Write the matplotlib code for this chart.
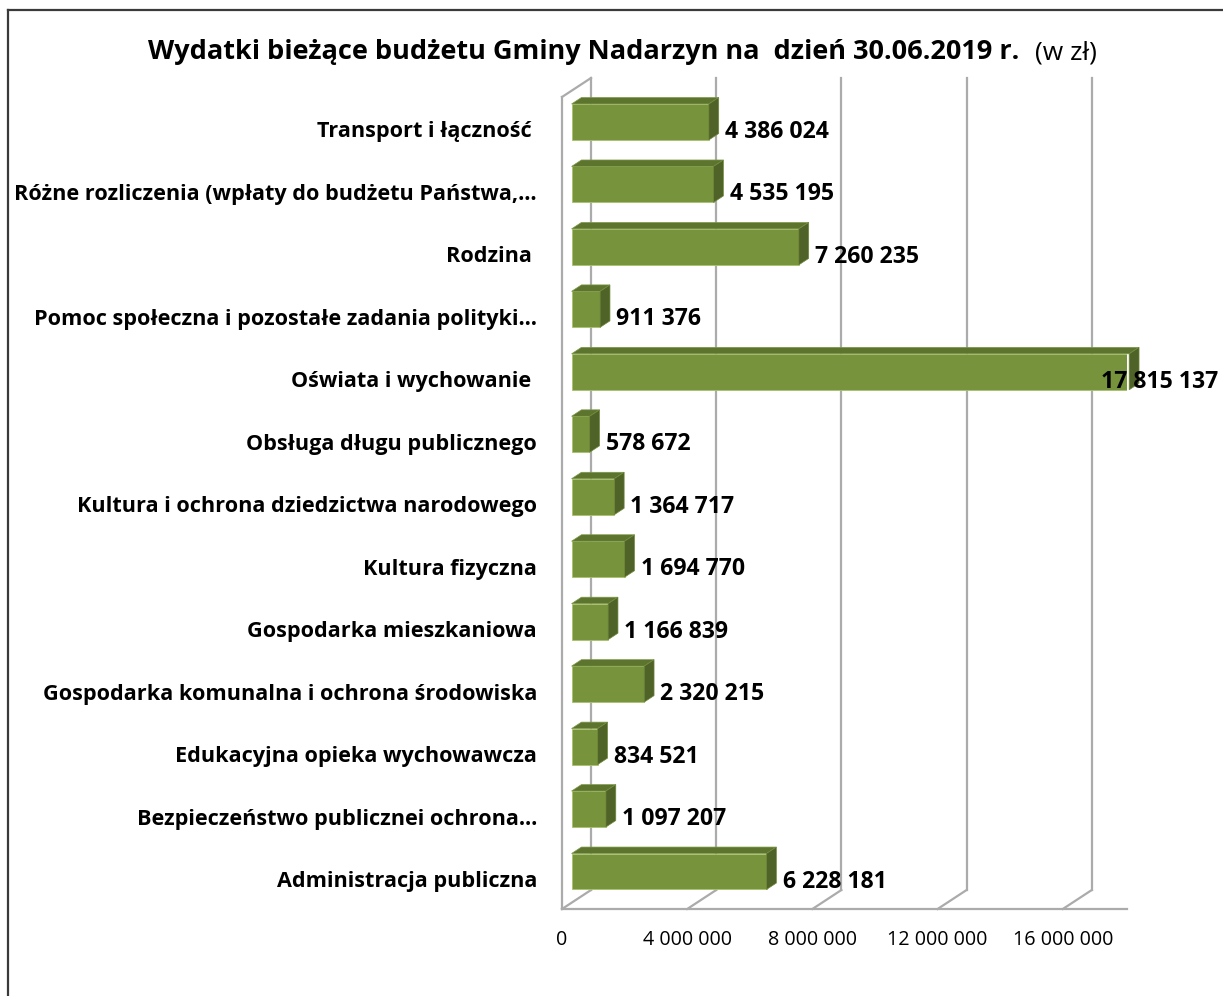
import matplotlib.pyplot as plt
from matplotlib.patches import Polygon
from matplotlib.lines import Line2D

plt.rcParams['font.family'] = ['Open Sans', 'DejaVu Sans']

# dane
categories = [
    "Transport i łączność ",
    "Różne rozliczenia (wpłaty do budżetu Państwa,…",
    "Rodzina ",
    "Pomoc społeczna i pozostałe zadania polityki…",
    "Oświata i wychowanie ",
    "Obsługa długu publicznego",
    "Kultura i ochrona dziedzictwa narodowego",
    "Kultura fizyczna",
    "Gospodarka mieszkaniowa",
    "Gospodarka komunalna i ochrona środowiska",
    "Edukacyjna opieka wychowawcza",
    "Bezpieczeństwo publicznei ochrona…",
    "Administracja publiczna",
]
values = [4386024, 4535195, 7260235, 911376, 17815137, 578672, 1364717,
          1694770, 1166839, 2320215, 834521, 1097207, 6228181]
ticks = [0, 4000000, 8000000, 12000000, 16000000]


def fmt(v):
    return f"{v:,}".replace(",", " ")


W, H = 1223, 996
fig = plt.figure(figsize=(W / 100, H / 100), dpi=100)

# ramka wykresu
fig.add_artist(Line2D([8 / W, 8 / W], [0, 1 - 10 / H], color="#3a3a3a", lw=1.6))
fig.add_artist(Line2D([8 / W, 1], [1 - 10 / H, 1 - 10 / H], color="#3a3a3a", lw=1.6))

# tytuł
t = fig.text(148 / W, 1 - 52 / H, "Wydatki bieżące budżetu Gminy Nadarzyn na  dzień 30.06.2019 r.",
             fontsize=19.5, fontweight="bold", ha="left", va="center")
ax_title = fig.add_axes([0, 0, 1, 1], frameon=False)
ax_title.set_axis_off()
ax_title.annotate("(w zł)", xy=(1, 0), xycoords=t, xytext=(11, 0), textcoords="offset points",
                  fontsize=19, ha="left", va="bottom")

ax = fig.add_axes([562 / W, 1 - 909 / H, (1127 - 562) / W, (909 - 97) / H])
ax.set_xlim(0, 565 / 31.3 * 1e6)
ax.set_ylim(12.5, -0.5)
ax.set_axis_off()

DX = 29 / 31.3 * 1e6   # głębokość 3D w jednostkach x
DY = -19 / 62.46       # głębokość 3D w jednostkach kategorii
grid_c = "#ababab"
top = -0.5
bottom = len(categories) - 0.5

# ściany i siatka
for tk in ticks:
    ax.plot([tk + DX, tk + DX], [bottom + DY, top + DY], color=grid_c, lw=1.6, clip_on=False, zorder=1)
    ax.plot([tk, tk + DX], [bottom, bottom + DY], color=grid_c, lw=1.6, clip_on=False, zorder=1)
    ax.text(tk, bottom + 0.5, fmt(tk), ha="center", va="center", fontsize=14.2)
ax.plot([0, ax.get_xlim()[1]], [bottom, bottom], color=grid_c, lw=1.6, clip_on=False, zorder=1)
ax.plot([0, 0], [bottom, top], color=grid_c, lw=1.6, clip_on=False, zorder=1)
ax.plot([0, DX], [top, top + DY], color=grid_c, lw=1.6, clip_on=False, zorder=1)

# słupki 3D
z0, z1 = 0.33, 0.67
h = 0.576
ys = [i + z0 * DY for i in range(len(values))]
x0 = z0 * DX
ax.barh(ys, values, left=x0, height=h, color="#77933c", edgecolor="#a9c26f", lw=0.6, zorder=3)
ddx, ddy = (z1 - z0) * DX, (z1 - z0) * DY
for i, v in enumerate(values):
    yt = ys[i] - h / 2
    yb = ys[i] + h / 2
    ax.add_patch(Polygon([(x0, yt), (x0 + v, yt), (x0 + v + ddx, yt + ddy), (x0 + ddx, yt + ddy)],
                         closed=True, facecolor="#5c742d", edgecolor="#7d9a48", lw=0.5,
                         clip_on=False, zorder=3))
    ax.add_patch(Polygon([(x0 + v, yt), (x0 + v, yb), (x0 + v + ddx, yb + ddy), (x0 + v + ddx, yt + ddy)],
                         closed=True, facecolor="#4f6228", edgecolor="#6f8a3a", lw=0.5,
                         clip_on=False, zorder=3))
    if v == max(values):
        ax.text(656 / 31.3 * 1e6, i + 0.06, fmt(v), ha="right", va="center",
                fontsize=16.6, fontweight="bold", zorder=4, clip_on=False)
    else:
        ax.text(v + z1 * DX + 0.2e6, i + 0.06, fmt(v), ha="left", va="center",
                fontsize=16.6, fontweight="bold", zorder=4, clip_on=False)

# etykiety kategorii
for i, c in enumerate(categories):
    ax.text(-25 / 31.3 * 1e6, i + 0.06, c, ha="right", va="center",
            fontsize=15.6, fontweight="bold", clip_on=False)

fig.savefig("out.png", dpi=100)
